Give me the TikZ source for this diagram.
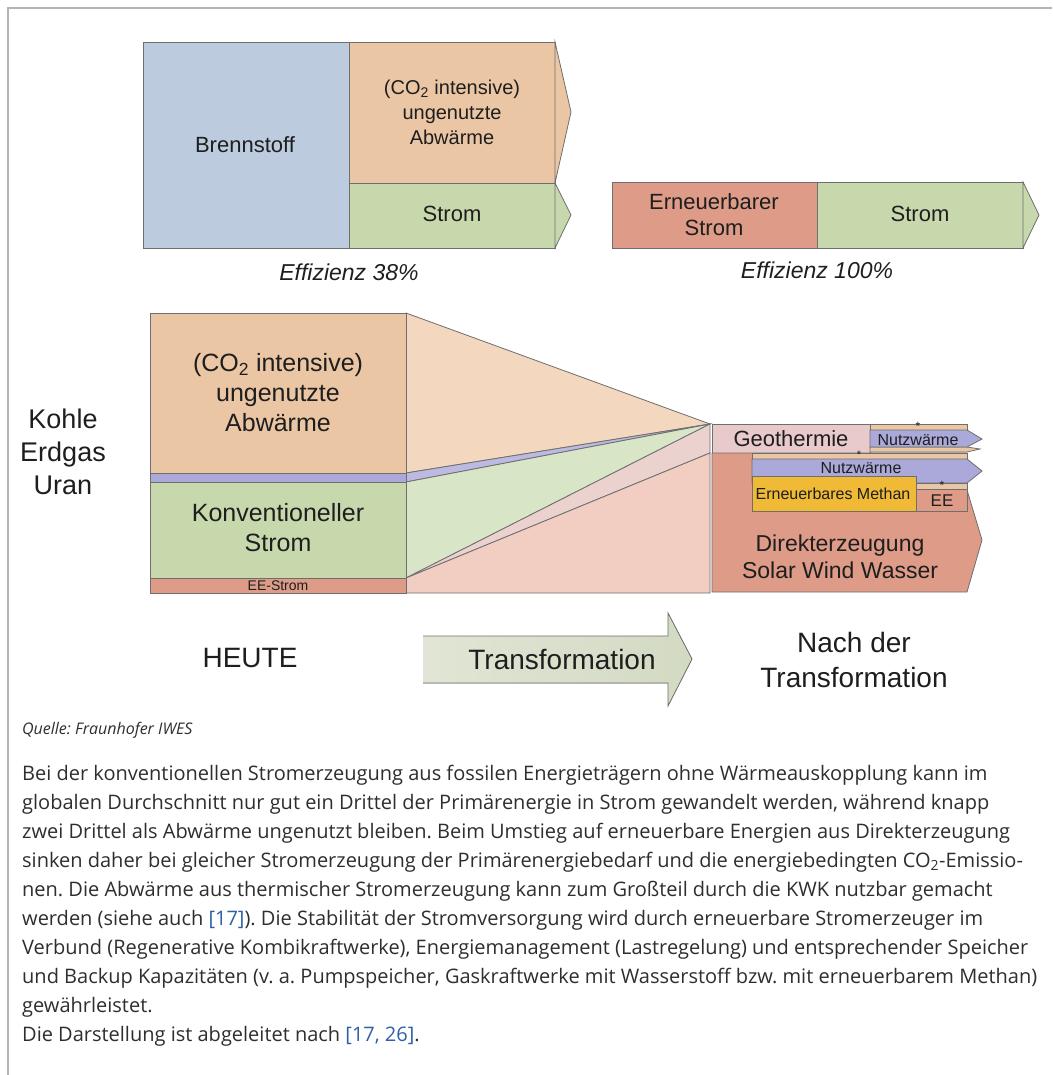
\documentclass[tikz,border=0pt]{standalone}
\usepackage{fontspec}
\setmainfont{Liberation Sans}
\newfontfamily\bodyfont{Open Sans}
\definecolor{frameg}{HTML}{B4B4B4}
\definecolor{lineg}{HTML}{6E6E6E}
\definecolor{txt}{HTML}{1E1E1E}
\definecolor{bodytxt}{HTML}{2E2E2E}
\definecolor{citeblue}{HTML}{2F5FA8}
\definecolor{fuel}{HTML}{BCCBDD}
\definecolor{waste}{HTML}{EBC6A4}
\definecolor{wastelt}{HTML}{F4D7BF}
\definecolor{power}{HTML}{C8D8AD}
\definecolor{powerlt}{HTML}{D8E5C6}
\definecolor{heat}{HTML}{ABA9D9}
\definecolor{heatlt}{HTML}{BDBAE2}
\definecolor{renew}{HTML}{DE9B87}
\definecolor{renewlt}{HTML}{F1CEC1}
\definecolor{geo}{HTML}{E9CACA}
\definecolor{geolt}{HTML}{EBD2CF}
\definecolor{methan}{HTML}{F0B936}
\definecolor{trans}{HTML}{D3DAC3}
\newcommand\fsz[2]{\fontsize{#1}{#2}\selectfont}

\begin{document}
\frenchspacing
\begin{tikzpicture}[x=1pt,y=-1pt,
  part/.style={draw=lineg,line width=0.8pt},
  every node/.style={inner sep=0pt,align=center,text=txt}]

  \useasboundingbox (0,0) rectangle (1052,1075);
  \draw[frameg,line width=1.5pt] (8,1075) -- (8,8) -- (1052,8);

  % heute: fossil
  \filldraw[part,fill=fuel] (143,42) rectangle (349,248);
  \filldraw[part,fill=waste] (349,42) rectangle (555,183);
  \filldraw[part,fill=waste] (555,42) -- (571,112) -- (555,183) -- cycle;
  \filldraw[part,fill=power] (349,183) rectangle (555,248);
  \filldraw[part,fill=power] (555,183) -- (571,215) -- (555,248) -- cycle;

  % heute: erneuerbar
  \filldraw[part,fill=renew] (612,182) rectangle (817,248);
  \filldraw[part,fill=power] (817,182) rectangle (1023,248);
  \filldraw[part,fill=power] (1023,182) -- (1039,215) -- (1023,248) -- cycle;

  % trichter
  \filldraw[part,fill=wastelt] (406,313) -- (710,424) -- (406,473) -- cycle;
  \filldraw[part,fill=heatlt] (406,473) -- (710,424) -- (406,482) -- cycle;
  \filldraw[part,fill=powerlt] (406,482) -- (710,424) -- (406,578) -- cycle;
  \filldraw[part,fill=geolt] (406,578) -- (710,424) -- (710,453) -- cycle;
  \filldraw[part,fill=renewlt] (406,578) -- (710,453) -- (710,593) -- (406,593) -- cycle;

  \filldraw[part,fill=waste] (150,313) rectangle (406,473);
  \filldraw[part,fill=heat] (150,473) rectangle (406,482);
  \filldraw[part,fill=power] (150,482) rectangle (406,578);
  \filldraw[part,fill=renew] (150,578) rectangle (406,593);

  % nach der transformation
  \filldraw[part,fill=geo] (712,424) rectangle (870,453);
  \filldraw[part,fill=waste] (870,424) rectangle (967,430);
  \filldraw[part,fill=waste] (870,447) -- (967,447) -- (980,449) -- (967,452) -- (870,452) -- cycle;
  \filldraw[part,fill=heat] (870,430) -- (967,430) -- (982,439) -- (967,447) -- (870,447) -- cycle;
  \filldraw[part,fill=renew] (712,453) -- (967,453) -- (967,490) -- (982,540) -- (967,592) -- (712,592) -- cycle;
  \filldraw[part,fill=waste] (752,453) rectangle (967,459);
  \filldraw[part,fill=heat] (752,459) -- (967,459) -- (982,471) -- (967,483) -- (752,483) -- cycle;
  \filldraw[part,fill=methan] (752,476) rectangle (916,511);
  \filldraw[part,fill=waste] (916,483) rectangle (967,489);
  \filldraw[part,fill=renew] (916,489) rectangle (967,511);

  % pfeil
  \fill[left color=trans!70,right color=trans] (423,636) -- (668,636) -- (668,613) -- (692,659)
    -- (668,706) -- (668,683) -- (423,683) -- cycle;
  \draw[part] (423,636) -- (668,636) -- (668,613) -- (692,659) -- (668,706) -- (668,683) -- (423,683);

  \begin{scope}[every node/.style={inner sep=0pt,align=center,text=txt,font=\fsz{22}{26}}]
    \node (brenn)  at (245,145) {Brennstoff};
    \node[font=\fsz{20}{25}] (abw1) at (452,112) {(CO\textsubscript{2} intensive)\\ungenutzte\\Abwärme};
    \node (strom1) at (452,214) {Strom};
    \node (eestr)  at (714,215) {Erneuerbarer\\Strom};
    \node (strom2) at (920,214) {Strom};
    \node[font=\fsz{23}{23}\itshape] (eff1) at (349,272) {Effizienz 38\%};
    \node[font=\fsz{23}{23}\itshape] (eff2) at (817,270) {Effizienz 100\%};
  \end{scope}

  \begin{scope}[every node/.style={inner sep=0pt,align=center,text=txt,font=\fsz{25}{30}}]
    \node[font=\fsz{27}{33}] (fossil) at (63,452) {Kohle\\Erdgas\\Uran};
    \node (abw2) at (278,393) {(CO\textsubscript{2} intensive)\\ungenutzte\\Abwärme};
    \node (konv) at (278,528) {Konventioneller\\Strom};
    \node[font=\fsz{14}{14}] (eestrom) at (278,586) {EE-Strom};
  \end{scope}

  \begin{scope}[every node/.style={inner sep=0pt,align=center,text=txt,font=\fsz{16}{16}}]
    \node[font=\fsz{22}{22}] (geoth) at (791,439) {Geothermie};
    \node (nw1) at (918,440) {Nutzwärme};
    \node (nw2) at (861,468) {Nutzwärme};
    \node (meth) at (833,494) {Erneuerbares Methan};
    \node[font=\fsz{17}{17}] (ee) at (942,501) {EE};
    \node[font=\fsz{12}{12},anchor=north] (s1) at (918,422) {*};
    \node[font=\fsz{11}{11},anchor=north] (s2) at (859,450.5) {*};
    \node[font=\fsz{12}{12},anchor=north] (s3) at (942,481) {*};
    \node[font=\fsz{23}{27}] (direkt) at (840,557) {Direkterzeugung\\Solar Wind Wasser};
  \end{scope}

  \begin{scope}[every node/.style={inner sep=0pt,align=center,text=txt,font=\fsz{28}{35}}]
    \node (heute) at (250,658) {HEUTE};
    \node (transf) at (562,659) {Transformation};
    \node (nach) at (854,660) {Nach der\\Transformation};
  \end{scope}

  \begin{scope}[every node/.style={inner sep=0pt,anchor=base west,text=bodytxt,font=\bodyfont\fsz{20}{20}}]
    \node[font=\bodyfont\itshape\fsz{16}{16}] (quelle) at (22,734) {Quelle: Fraunhofer IWES};
    \node (l1)  at (22,780)   {Bei der konventionellen Stromerzeugung aus fossilen Energieträgern ohne Wärmeauskopplung kann im};
    \node (l2)  at (22,809.1) {globalen Durchschnitt nur gut ein Drittel der Primärenergie in Strom gewandelt werden, während knapp};
    \node (l3)  at (22,838.2) {zwei Drittel als Abwärme ungenutzt bleiben. Beim Umstieg auf erneuerbare Energien aus Direkterzeugung};
    \node (l4)  at (22,867.3) {sinken daher bei gleicher Stromerzeugung der Primärenergiebedarf und die energiebedingten CO\textsubscript{2}-Emissio-};
    \node (l5)  at (22,896.4) {nen. Die Abwärme aus thermischer Stromerzeugung kann zum Großteil durch die KWK nutzbar gemacht};
    \node (l6)  at (22,925.5) {werden (siehe auch \textcolor{citeblue}{[17]}). Die Stabilität der Stromversorgung wird durch erneuerbare Stromerzeuger im};
    \node (l7)  at (22,954.6) {Verbund (Regenerative Kombikraftwerke), Energiemanagement (Lastregelung) und entsprechender Speicher};
    \node (l8)  at (22,983.7) {und Backup Kapazitäten (v. a. Pumpspeicher, Gaskraftwerke mit Wasserstoff bzw. mit erneuerbarem Methan)};
    \node (l9)  at (22,1012.8) {gewährleistet.};
    \node (l10) at (22,1041.9) {Die Darstellung ist abgeleitet nach \textcolor{citeblue}{[17, 26]}.};
  \end{scope}

\end{tikzpicture}
\end{document}
